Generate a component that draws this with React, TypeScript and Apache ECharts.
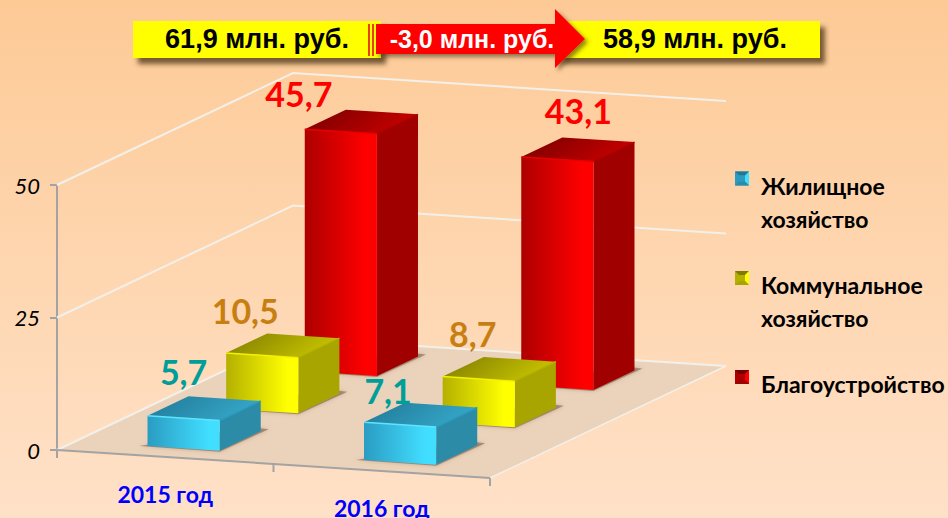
import React, { useEffect, useRef } from "react";
import * as echarts from "echarts";

const categories = ["2015 год", "2016 год"];
const valueTicks = [0, 25, 50];
const housing = [5.7, 7.1];
const utilities = [10.5, 8.7];
const landscaping = [45.7, 43.1];
const seriesNames = ["Жилищное\nхозяйство", "Коммунальное\nхозяйство", "Благоустройство"];
const totalLeft = "61,9 млн. руб.";
const totalDelta = "-3,0 млн. руб.";
const totalRight = "58,9 млн. руб.";

// oblique projection of the chart box
const GRID = { left: 57, top: 185, width: 433, height: 265 };
const DEPTH_X = 236;
const DEPTH_Y = 112;
const SLOPE = 28 / 433;
const BAR_FRONT = 1 / 3;
const BAR_WIDTH = 1 / 3;
const BAR_DEPTH = 0.174;
const LABEL_FONT = "Lato, 'Noto Sans', sans-serif";

const fmt = (v: number) => v.toFixed(1).replace(".", ",");

const project = (api: any, cat: number, frac: number, depth: number, v: number) => {
  const c = api.coord([cat, v]);
  const band = api.size([1, 0])[0];
  const px = c[0] + (frac - 0.5) * band;
  return [px + depth * DEPTH_X, c[1] + (px - GRID.left) * SLOPE - depth * DEPTH_Y];
};

const hGrad = (a: string, b: string) =>
  new echarts.graphic.LinearGradient(0, 0, 1, 0, [
    { offset: 0, color: a },
    { offset: 0.85, color: b },
    { offset: 1, color: b },
  ]);

const poly = (points: number[][], style: any) => ({
  type: "polygon",
  shape: { points },
  style,
});

type Skin = {
  frontA: string; frontB: string; side: string; topA: string; topB: string; edge: string; label: string;
};
const blueSkin: Skin = { frontA: "#2a9cc2", frontB: "#41deff", side: "#2c8ca8", topA: "#1f7896", topB: "#36a6c8", edge: "#5fe4ff", label: "#009e98" };
const yellowSkin: Skin = { frontA: "#b4b000", frontB: "#ffff00", side: "#a8a500", topA: "#7e7b00", topB: "#c6c200", edge: "#f4f200", label: "#c87f12" };
const redSkin: Skin = { frontA: "#ad0000", frontB: "#ff0000", side: "#a00000", topA: "#760000", topB: "#c40000", edge: "#e80000", label: "#ff0000" };

const barSeries = (
  name: string,
  values: number[],
  depthFront: number,
  skin: Skin,
  nudges: number[][],
  z: number,
) => ({
  type: "custom",
  name,
  coordinateSystem: "cartesian2d",
  z,
  clip: false,
  silent: true,
  itemStyle: { color: skin.frontB },
  data: values.map((v, i) => [i, v]),
  renderItem: (_p: any, api: any) => {
    const cat = api.value(0);
    const v = api.value(1);
    const f0 = BAR_FRONT;
    const f1 = BAR_FRONT + BAR_WIDTH;
    const d0 = depthFront;
    const d1 = depthFront + BAR_DEPTH;
    const fl0 = project(api, cat, f0, d0, 0);
    const fr0 = project(api, cat, f1, d0, 0);
    const br0 = project(api, cat, f1, d1, 0);
    const fl1 = project(api, cat, f0, d0, v);
    const fr1 = project(api, cat, f1, d0, v);
    const br1 = project(api, cat, f1, d1, v);
    const bl1 = project(api, cat, f0, d1, v);
    const mid = project(api, cat, 0.5, d0, v);
    const n = nudges[cat];
    return {
      type: "group",
      children: [
        poly(
          [
            [fl0[0] - 8, fl0[1]],
            [fr0[0], fr0[1] + 1],
            [br0[0] + 8, br0[1] - 2],
            [br0[0] - 10, br0[1] - 4],
          ],
          { fill: "rgba(120,90,70,0.55)", shadowBlur: 4, shadowColor: "rgba(120,90,70,0.6)" },
        ),
        poly([fr0, br0, br1, fr1], { fill: skin.side }),
        poly([fl0, fr0, fr1, fl1], { fill: hGrad(skin.frontA, skin.frontB) }),
        poly([fl1, fr1, br1, bl1], {
          fill: new echarts.graphic.LinearGradient(0, 0, 1, 0.3, [
            { offset: 0, color: skin.topA },
            { offset: 1, color: skin.topB },
          ]),
        }),
        { type: "line", shape: { x1: fl1[0], y1: fl1[1], x2: fr1[0], y2: fr1[1] }, style: { stroke: skin.edge, lineWidth: 1.5 } },
        { type: "line", shape: { x1: fr1[0], y1: fr1[1], x2: br1[0], y2: br1[1] }, style: { stroke: skin.frontA, lineWidth: 1.5 } },
        {
          type: "text",
          z2: 50,
          x: mid[0] + n[0],
          y: mid[1] + n[1],
          style: {
            text: fmt(v),
            fill: skin.label,
            font: `bold 34px ${LABEL_FONT}`,
            align: "center",
            verticalAlign: "middle",
          },
        },
      ],
    };
  },
});

const frameSeries = {
  type: "custom",
  name: "frame",
  coordinateSystem: "cartesian2d",
  z: 1,
  clip: false,
  silent: true,
  data: [[0, 0]],
  renderItem: (_p: any, api: any) => {
    const a = (f: number, d: number, cat: number, v: number) => project(api, cat, f, d, v);
    const children: any[] = [];
    const fl = a(0, 0, 0, 0);
    const fr = a(1, 0, 1, 0);
    const bl = a(0, 1, 0, 0);
    const br = a(1, 1, 1, 0);
    children.push(poly([fl, fr, br, bl], { fill: "#ebd3bb" }));
    valueTicks.forEach((t) => {
      const p0 = a(0, 0, 0, t);
      const p1 = a(0, 1, 0, t);
      const p2 = a(1, 1, 1, t);
      children.push({
        type: "polyline",
        shape: { points: [p0, p1, p2] },
        style: { stroke: "#f3f0ea", lineWidth: 2, fill: "none" },
      });
    });
    children.push({
      type: "line",
      shape: { x1: fr[0], y1: fr[1], x2: br[0], y2: br[1] },
      style: { stroke: "#f3f0ea", lineWidth: 1.5 },
    });
    children.push({
      type: "line",
      shape: { x1: fl[0], y1: fl[1], x2: fr[0], y2: fr[1] },
      style: { stroke: "#a3a3a3", lineWidth: 2 },
    });
    [[0, 0], [1, 0], [1, 1]].forEach(([f, cat]) => {
      const p = a(f, 0, cat, 0);
      children.push({
        type: "line",
        shape: { x1: p[0], y1: p[1], x2: p[0], y2: p[1] + 8 },
        style: { stroke: "#a3a3a3", lineWidth: 2 },
      });
    });
    return { type: "group", children };
  },
};

const categoryLabelSeries = {
  type: "custom",
  name: "categoryLabels",
  coordinateSystem: "cartesian2d",
  z: 3,
  clip: false,
  silent: true,
  data: categories.map((_, i) => [i, 0]),
  renderItem: (_p: any, api: any) => {
    const i = api.value(0);
    const p = project(api, i, 0.5, 0, 0);
    return {
      type: "text",
      x: p[0],
      y: p[1] + 37,
      style: {
        text: categories[i],
        fill: "#0000ff",
        font: `bold 23px ${LABEL_FONT}`,
        align: "center",
        verticalAlign: "middle",
      },
    };
  },
};

const legendKey = (x: number, y: number, skin: Skin) => {
  const s = 14;
  return {
    type: "group",
    x,
    y,
    silent: true,
    children: [
      { type: "rect", shape: { x: 0, y: 0, width: s, height: s }, style: { fill: skin.frontA } },
      poly([[0, 0], [s, 0], [s - 4, 4], [4, 4]], { fill: skin.topA }),
      poly([[s, 0], [s, s], [s - 4, s - 4], [s - 4, 4]], { fill: skin.frontB }),
      poly([[0, s], [s, s], [s - 4, s - 4], [4, s - 4]], { fill: skin.side }),
      poly([[4, 4], [s - 4, 4], [s - 6, 7], [s - 4, s - 4], [4, s - 4]], { fill: skin.frontA }),
    ],
  };
};

const bannerText = (text: string, x: number, fill: string, size: number) => ({
  type: "text",
  x,
  y: 39,
  z: 12,
  silent: true,
  style: { text, fill, font: `bold ${size}px 'Liberation Sans', Arial, sans-serif`, align: "center", verticalAlign: "middle" },
});

const bannerShadow = { shadowBlur: 5, shadowOffsetX: 5, shadowOffsetY: 6, shadowColor: "rgba(70,50,20,0.75)" };

export default function App() {
  const ref = useRef<HTMLDivElement>(null);
  useEffect(() => {
    if (!ref.current) return;
    const chart = echarts.init(ref.current, undefined, { renderer: "svg" });
    chart.setOption({
      animation: false,
      backgroundColor: {
        type: "linear",
        x: 0,
        y: 0,
        x2: 0,
        y2: 1,
        colorStops: [
          { offset: 0, color: "#fdca96" },
          { offset: 1, color: "#ffe1c8" },
        ],
      },
      grid: { ...GRID, containLabel: false },
      xAxis: {
        type: "category",
        data: categories,
        axisLine: { show: false },
        axisTick: { show: false },
        axisLabel: { show: false },
        splitLine: { show: false },
      },
      yAxis: {
        type: "value",
        min: 0,
        max: 50,
        interval: 25,
        axisLine: { show: true, lineStyle: { color: "#a3a3a3", width: 2 } },
        axisTick: { show: true, length: 7, lineStyle: { color: "#a3a3a3", width: 2 } },
        splitLine: { show: false },
        axisLabel: {
          margin: 17,
          fontSize: 22,
          fontStyle: "italic",
          color: "#000",
          fontFamily: LABEL_FONT,
        },
      },
      legend: {
        show: true,
        orient: "vertical",
        left: 735,
        top: 164,
        icon: "none",
        itemWidth: 16,
        itemHeight: 14,
        itemGap: 33,
        selectedMode: false,
        data: seriesNames,
        textStyle: { fontSize: 23, fontWeight: "bold", lineHeight: 33, color: "#000", fontFamily: LABEL_FONT },
      },
      series: [
        frameSeries,
        barSeries(seriesNames[2], landscaping, 0.744, redSkin, [[-42, -38], [21, -49]], 4),
        barSeries(seriesNames[1], utilities, 0.411, yellowSkin, [[-17, -45], [-6, -45]], 5),
        barSeries(seriesNames[0], housing, 0.0777, blueSkin, [[0, -47], [-12, -34]], 6),
        categoryLabelSeries,
      ],
      graphic: [
        { type: "rect", z: 10, silent: true, shape: { x: 133, y: 21, width: 248, height: 37 }, style: { fill: "#ffff00", ...bannerShadow } },
        { type: "rect", z: 10, silent: true, shape: { x: 558, y: 21, width: 262, height: 37 }, style: { fill: "#ffff00", ...bannerShadow } },
        { type: "rect", z: 11, silent: true, shape: { x: 368, y: 24, width: 2, height: 32 }, style: { fill: "#e8420a" } },
        { type: "rect", z: 11, silent: true, shape: { x: 372, y: 24, width: 2, height: 32 }, style: { fill: "#e8420a" } },
        {
          type: "polygon",
          z: 11,
          silent: true,
          shape: { points: [[376, 24], [555, 24], [555, 9], [585, 39], [555, 68], [555, 54], [376, 54]] },
          style: { fill: "#ff0000", shadowBlur: 4, shadowOffsetX: 3, shadowOffsetY: 3, shadowColor: "rgba(70,50,20,0.6)" },
        },
        bannerText(totalLeft, 257, "#000", 27),
        bannerText(totalDelta, 472, "#fff", 25),
        bannerText(totalRight, 695, "#000", 27),
        legendKey(735, 171.5, blueSkin),
        legendKey(735, 271, yellowSkin),
        legendKey(735, 370, redSkin),
      ],
    });
    return () => chart.dispose();
  }, []);
  return <div ref={ref} style={{ position: "fixed", left: 0, top: 0, width: 948, height: 518 }} />;
}
